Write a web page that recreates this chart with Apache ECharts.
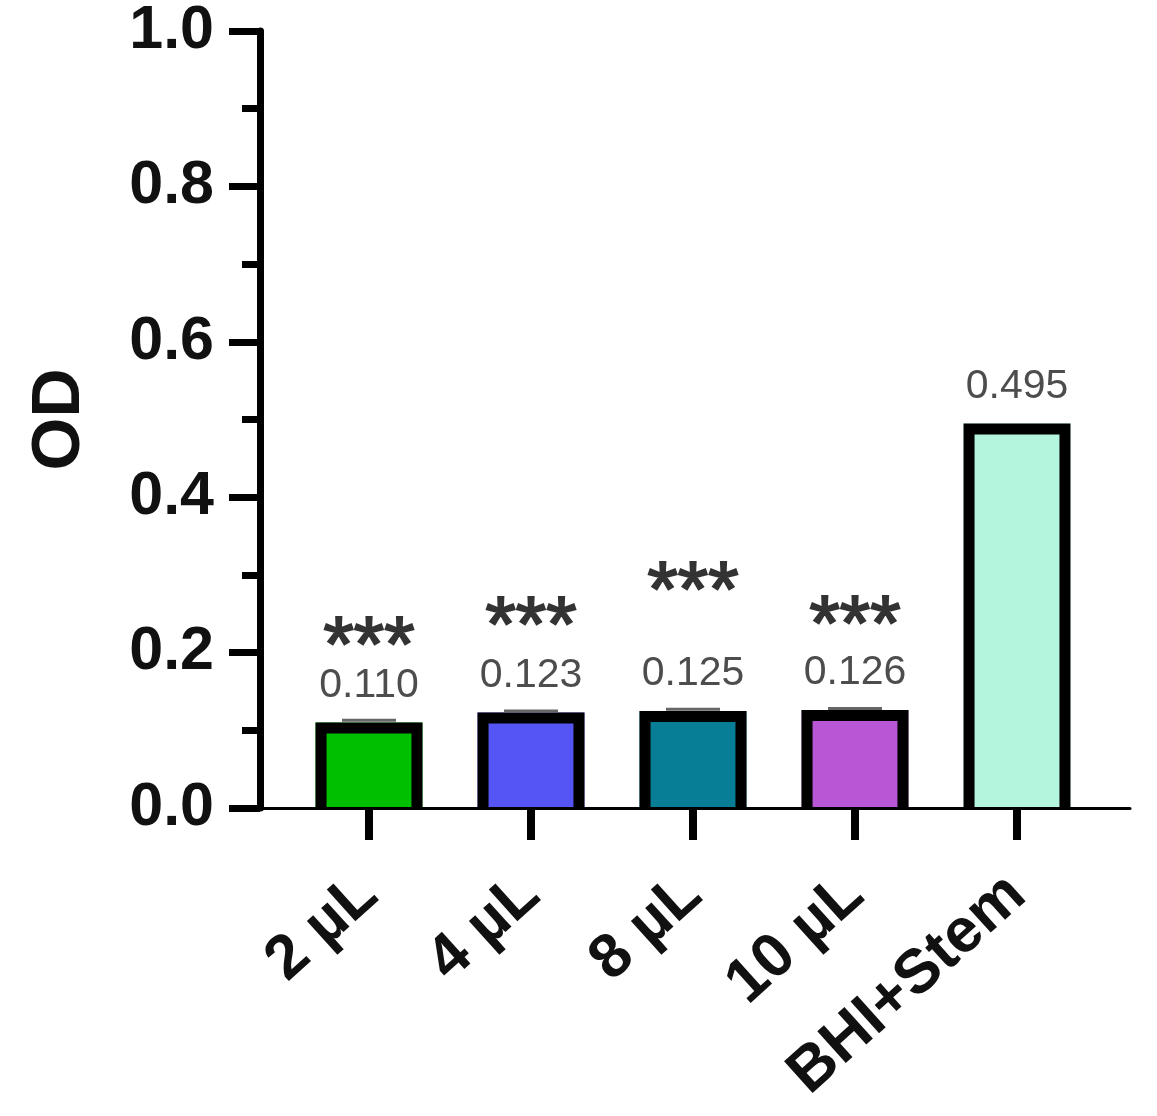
<!DOCTYPE html>
<html>
<head>
<meta charset="utf-8">
<script src="https://cdn.jsdelivr.net/npm/echarts@6/dist/echarts.min.js"></script>
<style>
html,body{margin:0;padding:0;background:#fff;}
#chart{width:1157px;height:1116px;}
</style>
</head>
<body>
<div id="chart"></div>
<script>
const categories = ['2 µL', '4 µL', '8 µL', '10 µL', 'BHI+Stem'];
const odValues = [0.110, 0.123, 0.125, 0.126, 0.495];
const odErrors = [0.003, 0.002, 0.002, 0.002, 0];
const sigLabels = ['***', '***', '***', '***', ''];
const sigHeights = [0.224, 0.250, 0.296, 0.252, 0];
const barColors = ['#00bf00', '#5555f5', '#077e95', '#b956d6', '#b3f5dd'];
const yMin = 0, yMax = 1.0, yStep = 0.2;

const FONT = "'Liberation Sans', Arial, sans-serif";
const chart = echarts.init(document.getElementById('chart'), null, {renderer: 'canvas'});

const seriesData = categories.map((c, i) => [i, odValues[i], odErrors[i], sigHeights[i]]);

const option = {
  backgroundColor: '#ffffff',
  animation: false,
  grid: [
    {left: 260, right: 27, top: 31, bottom: 308},
    {left: 288, right: 59, top: 31, bottom: 308}
  ],
  xAxis: [
    {
      type: 'value', gridIndex: 0, min: 0, max: 1, z: 5,
      axisLine: {show: true, lineStyle: {color: '#000', width: 3}},
      axisTick: {show: false}, axisLabel: {show: false}, splitLine: {show: false}
    },
    {
      type: 'category', gridIndex: 1, data: categories,
      axisLine: {show: false},
      axisTick: {show: true, alignWithLabel: true, length: 32, lineStyle: {color: '#000', width: 8}},
      axisLabel: {
        rotate: 42, margin: 78, interval: 0,
        fontFamily: FONT, fontSize: 62, fontWeight: 'bold', color: '#111'
      },
      splitLine: {show: false}
    }
  ],
  yAxis: [
    {
      type: 'value', gridIndex: 0, min: yMin, max: yMax, interval: yStep,
      name: 'OD', nameLocation: 'middle', nameGap: 166,
      nameTextStyle: {fontFamily: FONT, fontSize: 68, fontWeight: 'bold', color: '#111'},
      axisLine: {show: true, lineStyle: {color: '#000', width: 7}},
      axisTick: {show: true, length: 31, lineStyle: {color: '#000', width: 7}},
      minorTick: {show: true, splitNumber: 2, length: 18, lineStyle: {color: '#000', width: 7}},
      axisLabel: {
        margin: 46, fontFamily: FONT, fontSize: 61, fontWeight: 'bold', color: '#111',
        formatter: v => v.toFixed(1)
      },
      splitLine: {show: false}
    },
    {
      type: 'value', gridIndex: 1, min: yMin, max: yMax, show: false
    }
  ],
  series: [{
    type: 'custom',
    xAxisIndex: 1, yAxisIndex: 1,
    clip: false,
    data: seriesData,
    renderItem: function (params, api) {
      const i = params.dataIndex;
      const v = api.value(1);
      const err = api.value(2);
      const sig = api.value(3);
      const top = api.coord([i, v]);
      const base = api.coord([i, 0]);
      const band = api.size([1, 0])[0];
      const outerW = band * 0.66;
      const bw = 11;
      const cx = top[0];
      const x0 = cx - outerW / 2, x1 = cx + outerW / 2;
      const children = [
        {type: 'rect', shape: {x: x0, y: top[1], width: outerW, height: base[1] - top[1]},
         style: {fill: barColors[i]}},
        {type: 'polyline', shape: {points: [[x0 + bw / 2, base[1]], [x0 + bw / 2, top[1] + bw / 2],
          [x1 - bw / 2, top[1] + bw / 2], [x1 - bw / 2, base[1]]]},
         style: {stroke: '#000', lineWidth: bw, fill: null, lineJoin: 'miter'}}
      ];
      if (err > 0) {
        const ep = api.coord([i, v + err]);
        children.push({type: 'line', shape: {x1: cx - 27, y1: ep[1], x2: cx + 27, y2: ep[1]},
          style: {stroke: '#666', lineWidth: 3}});
      }
      children.push({type: 'text', style: {
        text: v.toFixed(3), x: cx, y: top[1] - 37, align: 'center', verticalAlign: 'middle',
        font: "41px " + FONT, fill: '#4d4d4d'}});
      if (sigLabels[i]) {
        const sp = api.coord([i, sig]);
        children.push({type: 'text', style: {
          text: sigLabels[i], x: cx, y: sp[1] + 16, align: 'center', verticalAlign: 'middle',
          font: "78px " + FONT, fill: '#333', stroke: '#333', lineWidth: 2}});
      }
      return {type: 'group', children: children};
    }
  }]
};
chart.setOption(option);
</script>
</body>
</html>
